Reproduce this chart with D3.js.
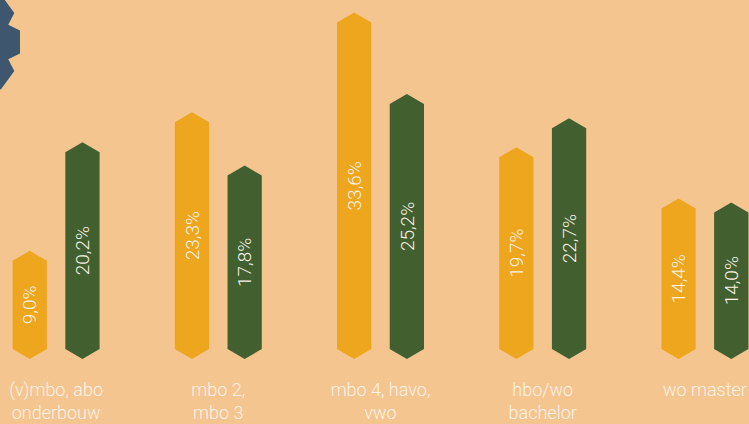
<!DOCTYPE html>
<html>
<head>
<meta charset="utf-8">
<script src="https://cdn.jsdelivr.net/npm/d3@7"></script>
<style>
  html, body { margin: 0; padding: 0; background: #f5c590; }
  svg { display: block; }
  .bar-label { font-family: Roboto, 'Open Sans', sans-serif; font-weight: 300; font-size: 19px; fill: #fbf3e6; }
  .cat-label { font-family: Roboto, 'Open Sans', sans-serif; font-weight: 300; font-size: 18px; fill: #fcf3e6; }
</style>
</head>
<body>
<svg id="chart" width="749" height="424"></svg>
<script>
// Data
const categories = [
  ['(v)mbo, abo', 'onderbouw'],
  ['mbo 2,', 'mbo 3'],
  ['mbo 4, havo,', 'vwo'],
  ['hbo/wo', 'bachelor'],
  ['wo master']
];
const seriesNames = ['orange', 'green'];
const orangeValues = [9.0, 23.3, 33.6, 19.7, 14.4];
const greenValues = [20.2, 17.8, 25.2, 22.7, 14.0];
const colors = { orange: '#eea61e', green: '#42602f' };

const width = 749;
const height = 424;
const point = 10;      // height of the pointed ends
const bottomTip = 359; // lowest point of every bar

const svg = d3.select('#chart');

svg.append('rect')
  .attr('width', width)
  .attr('height', height)
  .attr('fill', '#f5c590');

// Gear decoration in the top-left corner
const gear = { cx: -45, cy: 42, outer: 66, inner: 56, teeth: 10 };
const gearPts = [];
for (let i = 0; i < gear.teeth; i++) {
  const a = (i * 36) * Math.PI / 180;
  const deg = Math.PI / 180;
  gearPts.push([a - 18 * deg, gear.inner]);
  gearPts.push([a - 10 * deg, gear.outer]);
  gearPts.push([a + 10 * deg, gear.outer]);
  gearPts.push([a + 18 * deg, gear.inner]);
}
svg.append('path')
  .attr('transform', `translate(${gear.cx},${gear.cy})`)
  .attr('d', d3.line()
    .x(d => d[1] * Math.cos(d[0]))
    .y(d => d[1] * Math.sin(d[0]))
    .curve(d3.curveLinearClosed)(gearPts))
  .attr('fill', '#3e576e');

// Scales
const x0 = d3.scaleBand()
  .domain(d3.range(categories.length))
  .range([-25, 786]);

const x1 = d3.scaleBand()
  .domain(seriesNames)
  .range([-43.5, 43.5])
  .paddingInner(0.35);

const y = d3.scaleLinear()
  .domain([0, 35])
  .range([338, -1]);

const fmt = d3.formatLocale({ decimal: ',', thousands: '.', grouping: [3], currency: ['€', ''] }).format('.1f');

const rows = categories.map((c, i) => ({
  i,
  values: [
    { key: 'orange', value: orangeValues[i] },
    { key: 'green', value: greenValues[i] }
  ]
}));

// Bar shape: pointed top and bottom
const barPath = (x, w, top) => {
  const l = x, r = x + w, m = x + w / 2;
  return `M${l},${top + point}L${m},${top}L${r},${top + point}` +
    `L${r},${bottomTip - point}L${m},${bottomTip}L${l},${bottomTip - point}Z`;
};

const groups = svg.selectAll('g.group')
  .data(rows)
  .enter()
  .append('g')
  .attr('class', 'group')
  .attr('transform', d => `translate(${x0(d.i) + x0.bandwidth() / 2},0)`);

groups.selectAll('path')
  .data(d => d.values)
  .enter()
  .append('path')
  .attr('d', d => barPath(x1(d.key), x1.bandwidth(), y(d.value)))
  .attr('fill', d => colors[d.key]);

groups.selectAll('text.bar-label')
  .data(d => d.values)
  .enter()
  .append('text')
  .attr('class', 'bar-label')
  .attr('text-anchor', 'middle')
  .attr('dy', '0.35em')
  .attr('transform', d => `translate(${x1(d.key) + x1.bandwidth() / 2},${(y(d.value) + bottomTip) / 2}) rotate(-90)`)
  .text(d => fmt(d.value) + '%');

// Category labels
const labels = svg.selectAll('text.cat-label')
  .data(categories)
  .enter()
  .append('text')
  .attr('class', 'cat-label')
  .attr('text-anchor', 'middle')
  .attr('x', (d, i) => x0(i) + x0.bandwidth() / 2)
  .attr('y', 396);

labels.selectAll('tspan')
  .data(d => d)
  .enter()
  .append('tspan')
  .attr('x', function() { return d3.select(this.parentNode).attr('x'); })
  .attr('dy', (d, i) => i === 0 ? 0 : 23)
  .text(d => d);
</script>
</body>
</html>
